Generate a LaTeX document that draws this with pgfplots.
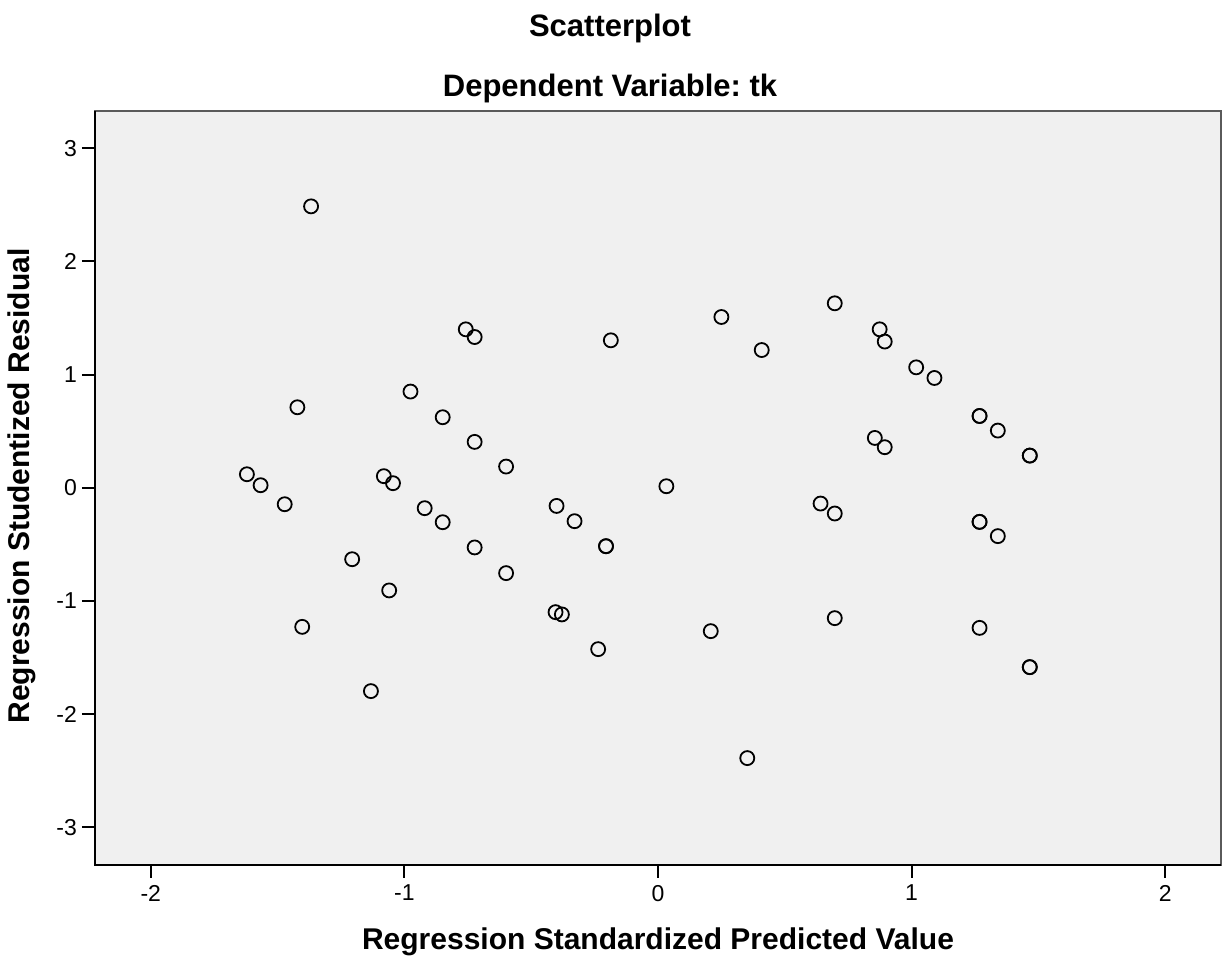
\documentclass[border=0pt]{standalone}
\usepackage{pgfplots}
\pgfplotsset{compat=1.18}
\usepackage{pgfplotstable}
\usepackage{fontspec}
\setmainfont{Liberation Sans}
\frenchspacing
\definecolor{plotbg}{RGB}{240,240,240}
\definecolor{frame}{RGB}{90,90,90}
\pgfplotstableread{
x y
-1.368 2.487
-0.758 1.400
-0.723 1.332
-0.186 1.303
-0.976 0.850
-1.422 0.711
-0.849 0.623
-0.723 0.405
-0.599 0.187
-1.621 0.119
-1.567 0.022
-1.081 0.102
-1.045 0.040
0.250 1.509
0.409 1.217
0.697 1.630
0.874 1.400
0.894 1.292
1.018 1.064
1.090 0.970
1.268 0.634
1.268 0.634
1.340 0.505
1.466 0.284
1.466 0.284
0.855 0.440
0.894 0.358
0.033 0.013
-1.472 -0.146
-0.920 -0.181
-0.849 -0.305
-1.206 -0.632
-1.060 -0.908
-1.403 -1.230
-1.132 -1.798
-0.723 -0.528
-0.599 -0.755
-0.400 -0.161
-0.329 -0.296
-0.205 -0.517
-0.205 -0.517
-0.404 -1.100
-0.379 -1.120
-0.236 -1.427
0.641 -0.140
0.697 -0.228
1.268 -0.302
1.268 -0.302
1.340 -0.428
0.208 -1.268
0.697 -1.153
1.268 -1.239
1.466 -1.586
1.466 -1.586
0.352 -2.390
}\resid
\begin{document}
\begin{tikzpicture}
\begin{axis}[
  scale only axis, width=563pt, height=377pt,
  xmin=-2.22, xmax=2.22, ymin=-3.335, ymax=3.33,
  xtick={-2,-1,0,1,2}, ytick={-3,-2,-1,0,1,2,3},
  tick align=outside, tick pos=left,
  major tick length=6.5pt,
  every tick/.style={black, line width=1pt},
  axis line style={draw=frame, line width=1pt},
  axis background/.style={fill=plotbg},
  tick label style={font=\fontsize{11.5}{13}\selectfont},
  yticklabel style={xshift=1pt},
  /pgf/number format/assume math mode=true,
  clip=false,
]
\addplot[only marks, mark=o, mark size=3.5pt, mark options={line width=0.9pt, draw=black}] table[x=x, y=y] {\resid};
\draw[black, line width=1pt] (rel axis cs:0,1) -- (rel axis cs:0,0) -- (rel axis cs:1,0);
\coordinate (SW) at (rel axis cs:0,0);
\end{axis}
\node[font=\bfseries\fontsize{15.5}{18}\selectfont] at ([shift={(257.5pt,418.5pt)}]SW) {Scatterplot};
\node[font=\bfseries\fontsize{15.5}{18}\selectfont] at ([shift={(257.5pt,388.5pt)}]SW) {Dependent Variable: tk};
\node[font=\bfseries\fontsize{15}{18}\selectfont] at ([shift={(281.5pt,-38.5pt)}]SW) {Regression Standardized Predicted Value};
\node[font=\bfseries\fontsize{15}{18}\selectfont, rotate=90] at ([shift={(-36.5pt,189.5pt)}]SW) {Regression Studentized Residual};
\path ([shift={(-47.5pt,-48.5pt)}]SW) rectangle ([shift={(564pt,432.5pt)}]SW);
\end{tikzpicture}
\end{document}
